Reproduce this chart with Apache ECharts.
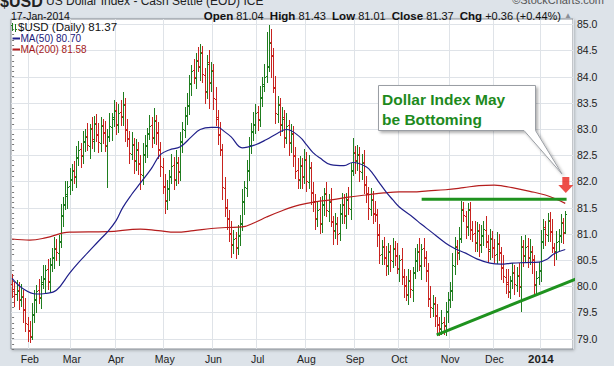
<!DOCTYPE html>
<html><head><meta charset="utf-8">
<script src="https://cdn.jsdelivr.net/npm/echarts@6/dist/echarts.min.js"></script>
<style>html,body{margin:0;padding:0;background:#dde3e9;overflow:hidden}#c{width:614px;height:366px}</style>
</head><body><div id="c"></div>
<script>
// ---- calendar (categories) ----
const firstDay = '2013-01-22';
const lastDay = '2014-01-17';
const holidays = ['2013-02-18','2013-03-29','2013-05-27','2013-07-04','2013-09-02','2013-11-28','2013-12-25','2014-01-01'];
const padSlots = 3;
const monthNames = ['Jan','Feb','Mar','Apr','May','Jun','Jul','Aug','Sep','Oct','Nov','Dec'];

// ---- daily OHLC ----
const opens = [
80.05,79.95,79.85,79.92,79.73,79.82,79.57,79.28,79.17,79.03,
79.47,79.73,79.92,79.78,80.07,80.13,80.32,80.08,80.42,80.53,
80.72,80.63,80.87,81.33,81.57,81.73,81.92,82.03,82.22,82.08,
82.47,82.62,82.48,82.77,82.87,82.68,83.02,82.78,83.12,82.88,
82.73,83.07,82.93,82.68,82.87,83.03,83.22,83.37,83.08,83.32,
83.23,83.47,82.98,82.82,82.53,82.72,82.38,82.62,82.33,82.13,
82.52,82.68,82.92,83.07,82.83,83.17,82.93,82.62,82.28,81.92,
81.63,81.87,82.08,82.32,82.03,82.37,82.18,82.77,82.98,83.27,
83.43,83.87,84.12,83.98,84.32,84.18,84.47,84.03,83.72,84.27,
83.88,84.12,83.58,83.22,82.88,82.62,81.88,81.52,81.28,81.02,
80.78,80.92,80.73,80.97,81.18,81.62,81.88,82.22,82.68,82.97,
83.08,83.32,83.18,83.62,83.83,84.02,84.18,84.67,84.42,83.78,
83.28,83.47,83.08,83.22,82.83,83.07,82.73,82.92,82.48,82.22,
82.03,82.32,82.08,82.42,81.98,82.27,81.78,81.62,81.28,81.47,
81.18,81.57,81.77,81.43,81.62,81.23,81.07,81.18,81.02,81.38,
81.57,81.33,81.67,81.48,82.22,82.57,82.38,82.52,82.18,82.37,
81.93,81.77,81.48,81.67,81.38,81.37,80.98,80.62,80.77,80.53,
80.38,80.67,80.48,80.72,80.58,80.33,80.52,80.18,80.02,79.83,
80.12,79.93,80.27,80.48,80.67,80.38,80.72,80.53,80.28,79.77,
79.58,79.67,79.43,79.27,79.18,79.32,79.23,79.52,79.73,79.92,
80.38,80.77,80.63,80.92,81.47,81.33,81.13,81.47,81.08,81.02,
80.83,81.07,80.78,80.97,81.08,80.87,80.68,80.92,80.73,80.62,
80.82,80.63,80.37,80.18,80.07,79.88,80.12,80.27,80.03,80.22,
79.98,80.77,80.58,80.77,80.53,80.67,80.52,80.03,80.17,80.28,
80.87,81.12,80.98,81.27,81.03,80.73,80.67,80.87,80.97,81.22,81.04];
const highs = [
80.23,80.07,80.12,80.07,80.05,79.92,79.77,79.42,79.34,79.68,
79.93,80.02,80.14,80.20,80.40,80.40,80.52,80.54,80.72,80.93,
80.90,80.97,81.57,81.70,82.00,82.00,82.25,82.34,82.39,82.68,
82.78,82.74,82.97,83.00,83.12,83.10,83.22,83.24,83.29,83.11,
83.23,83.19,83.15,83.00,83.30,83.30,83.55,83.51,83.47,83.55,
83.70,83.59,83.20,82.97,82.95,82.82,82.80,82.76,82.50,82.73,
82.88,83.02,83.27,83.22,83.40,83.27,83.13,82.76,82.45,82.15,
82.03,82.22,82.52,82.47,82.60,82.47,82.95,83.14,83.42,83.68,
84.03,84.22,84.34,84.45,84.57,84.62,84.58,84.17,84.42,84.50,
84.28,84.24,83.80,83.37,83.13,82.72,82.08,81.66,81.45,81.25,
81.08,81.04,81.17,81.35,81.85,82.00,82.40,82.84,83.12,83.33,
83.48,83.44,83.82,84.00,84.25,84.85,84.98,84.90,84.55,84.01,
83.63,83.59,83.42,83.37,83.30,83.17,83.10,83.06,82.65,82.45,
82.48,82.44,82.62,82.57,82.50,82.37,81.98,81.76,81.62,81.70,
81.73,81.87,81.99,81.75,81.87,81.33,81.40,81.32,81.57,81.78,
81.75,81.77,81.89,82.35,82.83,82.67,82.70,82.66,82.52,82.60,
82.11,81.89,81.87,81.82,81.63,81.47,81.18,80.89,80.94,80.76,
80.83,80.79,80.92,80.87,80.83,80.60,80.72,80.32,80.19,80.33,
80.30,80.37,80.72,80.80,80.92,80.80,80.92,80.67,80.45,80.00,
79.83,79.79,79.65,79.42,79.55,79.42,79.70,79.89,80.07,80.63,
80.93,80.89,81.12,81.62,81.60,81.43,81.58,81.61,81.25,81.25,
81.23,81.19,81.17,81.25,81.33,80.97,81.10,81.06,80.90,81.03,
81.00,80.75,80.59,80.33,80.32,80.20,80.45,80.41,80.37,80.45,
80.95,80.89,80.97,80.92,80.90,80.77,80.60,80.29,80.47,81.08,
81.28,81.24,81.40,81.42,81.28,80.83,81.05,81.09,81.37,81.30,81.43];
const lows = [
79.80,79.63,79.73,79.56,79.63,79.31,79.14,78.95,78.93,79.00,
79.32,79.51,79.68,79.59,79.97,79.89,79.94,79.88,80.29,80.35,
80.50,80.41,80.75,81.14,81.47,81.49,81.76,81.83,81.97,81.90,
82.32,82.28,82.36,82.58,82.60,82.44,82.64,82.58,82.77,82.57,
82.58,82.73,82.58,81.90,82.77,82.79,83.06,82.90,82.95,83.07,
83.08,82.78,82.68,82.36,82.43,82.16,82.22,82.15,81.86,81.95,
82.37,82.46,82.80,82.66,82.73,82.71,82.44,82.10,81.77,81.40,
81.48,81.65,81.96,81.86,81.93,81.96,82.02,82.57,82.85,83.09,
83.28,83.65,83.88,83.79,84.10,83.94,83.89,83.50,83.59,83.40,
83.73,83.38,83.08,82.71,82.50,81.66,81.34,81.10,80.87,80.56,
80.63,80.53,80.61,80.78,81.08,81.38,81.72,82.02,82.55,82.79,
82.93,82.98,83.06,83.43,83.73,83.90,84.10,84.00,83.70,83.12,
83.13,82.88,82.96,82.66,82.73,82.51,82.57,82.30,82.07,81.87,
81.88,81.88,81.96,81.81,81.88,81.56,81.44,81.10,81.15,81.02,
81.03,81.35,81.33,81.24,81.15,80.81,80.91,80.80,80.89,81.20,
81.20,81.11,81.38,81.29,82.12,82.16,82.22,82.00,82.05,81.77,
81.60,81.28,81.36,81.21,81.25,80.76,80.44,80.42,80.42,80.22,
80.23,80.28,80.36,80.41,80.25,80.09,80.04,79.80,79.73,79.65,
79.80,79.71,80.15,80.29,80.30,80.14,80.39,80.10,79.62,79.42,
79.43,79.23,79.13,79.06,79.08,79.08,79.07,79.32,79.60,79.74,
80.23,80.43,80.51,80.85,81.25,80.91,80.97,80.90,80.87,80.67,
80.68,80.58,80.66,80.78,80.75,80.46,80.52,80.55,80.47,80.44,
80.50,80.13,80.08,79.86,79.80,79.78,79.96,79.85,79.90,79.82,
79.52,80.38,80.46,80.36,80.43,80.26,79.85,79.83,80.04,80.10,
80.72,80.78,80.86,80.86,80.65,80.41,80.51,80.67,80.84,80.83,81.01];
const closes = [
79.95,79.85,79.90,79.75,79.80,79.55,79.30,79.15,79.05,79.45,
79.75,79.90,79.80,80.05,80.15,80.30,80.10,80.40,80.55,80.70,
80.65,80.85,81.35,81.55,81.75,81.90,82.05,82.20,82.10,82.45,
82.60,82.50,82.75,82.85,82.70,83.00,82.80,83.10,82.90,82.75,
83.05,82.95,82.70,82.85,83.05,83.20,83.35,83.10,83.30,83.25,
83.45,83.00,82.80,82.55,82.70,82.40,82.60,82.35,82.15,82.50,
82.70,82.90,83.05,82.85,83.15,82.95,82.60,82.30,81.90,81.65,
81.85,82.10,82.30,82.05,82.35,82.20,82.75,83.00,83.25,83.45,
83.85,84.10,84.00,84.30,84.20,84.45,84.05,83.70,84.25,83.90,
84.10,83.60,83.20,82.90,82.60,81.90,81.50,81.30,81.00,80.80,
80.90,80.75,80.95,81.20,81.60,81.90,82.20,82.70,82.95,83.10,
83.30,83.20,83.60,83.85,84.00,84.20,84.65,84.40,83.80,83.30,
83.45,83.10,83.20,82.85,83.05,82.75,82.90,82.50,82.20,82.05,
82.30,82.10,82.40,82.00,82.25,81.80,81.60,81.30,81.45,81.20,
81.55,81.75,81.45,81.60,81.25,81.05,81.20,81.00,81.40,81.55,
81.35,81.65,81.50,82.20,82.55,82.40,82.50,82.20,82.35,81.95,
81.75,81.50,81.65,81.40,81.35,81.00,80.60,80.75,80.55,80.40,
80.65,80.50,80.70,80.60,80.35,80.50,80.20,80.00,79.85,80.10,
79.95,80.25,80.50,80.65,80.40,80.70,80.55,80.30,79.75,79.60,
79.65,79.45,79.25,79.20,79.30,79.25,79.50,79.75,79.90,80.40,
80.75,80.65,80.90,81.45,81.35,81.15,81.45,81.10,81.00,80.85,
81.05,80.80,80.95,81.10,80.85,80.70,80.90,80.75,80.60,80.80,
80.65,80.35,80.20,80.05,79.90,80.10,80.25,80.05,80.20,80.00,
80.75,80.60,80.75,80.55,80.65,80.50,80.05,80.15,80.30,80.85,
81.10,81.00,81.25,81.05,80.75,80.65,80.85,80.95,81.20,81.01,81.37];

// ---- moving averages: [trading-day index, value] ----
const ma50 = [[0,80.15],[5,79.95],[11,79.85],[15,79.86],[20,79.92],[26,80.25],[30,80.45],[34,80.63],[40,80.90],[43,81.03],[47,81.25],[50,81.50],[54,81.75],[58,81.97],[63,82.25],[67,82.51],[71,82.60],[76,82.66],[81,82.85],[85,82.99],[90,83.03],[93,83.03],[96,82.95],[99,82.85],[104,82.64],[110,82.70],[115,82.80],[120,82.92],[124,82.99],[130,82.85],[133,82.70],[136,82.55],[139,82.45],[144,82.32],[150,82.30],[154,82.36],[160,82.28],[163,82.15],[166,81.97],[169,81.80],[172,81.65],[175,81.51],[181,81.32],[185,81.18],[189,81.05],[196,80.82],[200,80.72],[205,80.63],[210,80.52],[216,80.44],[221,80.42],[226,80.44],[232,80.45],[238,80.46],[242,80.52],[245,80.62],[250,80.70]];
const ma200 = [[0,80.90],[8,80.88],[15,80.92],[26,81.03],[43,81.04],[58,81.09],[66,81.06],[74,81.03],[82,81.06],[90,81.10],[97,81.12],[104,81.13],[110,81.22],[115,81.32],[122,81.44],[130,81.55],[137,81.61],[145,81.65],[152,81.70],[160,81.74],[168,81.78],[175,81.80],[181,81.80],[188,81.82],[196,81.84],[204,81.88],[211,81.92],[218,81.93],[222,81.91],[226,81.88],[234,81.81],[241,81.74],[246,81.66],[250,81.58]];

// ---- axis ticks & annotations (data coordinates) ----
const yTicks = [79.0,79.5,80.0,80.5,81.0,81.5,82.0,82.5,83.0,83.5,84.0,84.5,85.0];
const yMin = 78.8, yMax = 85.1, yStep = 0.1;
const resistance = [[185.1,81.66],[250.6,81.66]];
const support = [[191.9,79.07],[259.7,80.22]];
const arrowPoint = [[250.25,81.93]];

// ---- build categories (trading days) ----
function fmt(d){return d.toISOString().slice(0,10);}
const dates = [];
for (let d = new Date(firstDay+'T00:00:00Z'); fmt(d) <= lastDay; d.setUTCDate(d.getUTCDate()+1)) {
  const wd = d.getUTCDay();
  if (wd === 0 || wd === 6) continue;
  if (holidays.indexOf(fmt(d)) >= 0) continue;
  dates.push(fmt(d));
}
const categories = dates.slice();
for (let k = 1; k <= padSlots; k++) categories.push(' '.repeat(k));
const nCat = categories.length;
function isMonthStart(i){ return i > 0 && i < dates.length && dates[i].slice(0,7) !== dates[i-1].slice(0,7); }

const bars = closes.map((c, i) => [i, opens[i], highs[i], lows[i], c, i ? closes[i-1] : opens[i]]);
const GREEN = '#1f7d1f', RED = '#c8231f';
const FONT = '"Liberation Sans", Arial, sans-serif';
const NARROW = '"Liberation Sans Narrow", "Liberation Sans", Arial, sans-serif';

function txt(x, y, text, font, fill, extra) {
  return Object.assign({type: 'text', x: x, y: y, z: 10,
    style: Object.assign({text: text, font: font, fill: fill, verticalAlign: 'middle', align: 'left'}, extra || {})});
}

const chart = echarts.init(document.getElementById('c'), null, {renderer: 'svg'});
chart.setOption({
  animation: false,
  backgroundColor: '#dde3e9',
  grid: {left: 11, right: 41, top: 19, bottom: 17, show: true, backgroundColor: '#ffffff',
         borderColor: '#878d95', borderWidth: 1,
         shadowColor: 'rgba(0,0,0,0.25)', shadowBlur: 3, shadowOffsetX: 1, shadowOffsetY: 1},
  xAxis: [
    {type: 'category', data: categories, boundaryGap: true,
     axisLine: {show: false}, axisTick: {show: false},
     axisLabel: {interval: (i) => isMonthStart(i), margin: 4, color: '#222', fontSize: 10.5, fontFamily: FONT,
       formatter: (v) => { const m = +v.slice(5,7); return m === 1 ? '{y|' + v.slice(0,4) + '}' : monthNames[m-1]; },
       rich: {y: {fontWeight: 'bold', fontSize: 11.5, fontFamily: FONT, color: '#222'}}},
     splitLine: {show: true, interval: (i) => isMonthStart(i), lineStyle: {color: '#dfe3e8', width: 1}}},
    {type: 'value', min: -0.5, max: nCat - 0.5, show: false, splitLine: {show: false}}
  ],
  yAxis: {type: 'value', position: 'right', min: yMin, max: yMax, interval: yStep, scale: true,
    axisLine: {show: false},
    axisTick: {show: true, length: 2, lineStyle: {color: '#777'}},
    splitLine: {show: false},
    axisLabel: {margin: 4, color: '#222', fontSize: 10.5, fontFamily: FONT,
      formatter: (v) => yTicks.some(t => Math.abs(t - v) < 1e-6) ? v.toFixed(1) : ''}},
  series: [
    {type: 'custom', name: 'hgrid', xAxisIndex: 1, z: 1, silent: true,
     data: yTicks.map(v => [0, v]), encode: {x: 0, y: 1},
     renderItem: (params, api) => {
       const cs = params.coordSys; const p = api.coord([0, api.value(1)]);
       const y = Math.round(p[1]) + 0.5;
       return {type: 'line', shape: {x1: cs.x, y1: y, x2: cs.x + cs.width, y2: y}, style: {stroke: '#dfe3e8', lineWidth: 1}};
     }},
    {type: 'custom', name: '$USD', xAxisIndex: 0, z: 3, silent: true,
     data: bars, dimensions: ['i','open','high','low','close','prev'], encode: {x: 0, y: [1,2,3,4]},
     renderItem: (params, api) => {
       const i = api.value(0), o = api.value(1), h = api.value(2), l = api.value(3), c = api.value(4), pc = api.value(5);
       const ph = api.coord([i, h]), pl = api.coord([i, l]), po = api.coord([i, o]), pk = api.coord([i, c]);
       const x = Math.round(ph[0]) + 0.5;
       const st = {stroke: c >= pc ? GREEN : RED, lineWidth: 1};
       const yo = Math.round(po[1]) + 0.5, yc = Math.round(pk[1]) + 0.5;
       return {type: 'group', children: [
         {type: 'line', shape: {x1: x, y1: Math.round(ph[1]), x2: x, y2: Math.round(pl[1]) + 1}, style: st},
         {type: 'line', shape: {x1: x - 1.5, y1: yo, x2: x, y2: yo}, style: st},
         {type: 'line', shape: {x1: x, y1: yc, x2: x + 1.5, y2: yc}, style: st}
       ]};
     }},
    {type: 'line', name: 'MA(200)', xAxisIndex: 1, z: 4, data: ma200, smooth: 0.4, symbol: 'none',
     lineStyle: {color: '#b51d1d', width: 1.2}, silent: true},
    {type: 'line', name: 'MA(50)', xAxisIndex: 1, z: 4, data: ma50, smooth: 0.4, symbol: 'none',
     lineStyle: {color: '#20208a', width: 1.2}, silent: true},
    {type: 'line', name: 'resistance', xAxisIndex: 1, z: 5, data: resistance, symbol: 'none', clip: false,
     lineStyle: {color: '#1f921f', width: 3}, silent: true},
    {type: 'line', name: 'support', xAxisIndex: 1, z: 5, data: support, symbol: 'none', clip: false,
     lineStyle: {color: '#1f921f', width: 3}, silent: true},
    {type: 'scatter', name: 'arrow', xAxisIndex: 1, z: 6, data: arrowPoint, clip: false, silent: true,
     symbol: 'path://M4,0 L11,0 L11,8 L15,8 L7.5,16 L0,8 L4,8 Z', symbolSize: [15, 16],
     itemStyle: {color: '#e8231b'}}
  ],
  graphic: [
    txt(0, 1, '{b|$USD} US Dollar Index - Cash Settle (EOD) ICE', '12px ' + FONT, '#222',
        {rich: {b: {font: 'bold 16px ' + FONT, fill: '#222'}}}),
    txt(604, 0, '©StockCharts.com', '11px ' + FONT, '#555', {align: 'right'}),
    txt(11, 15.5, '17-Jan-2014', '10.5px ' + FONT, '#111'),
    txt(572, 15.5, '{b|Open} 81.04  {b|High} 81.43  {b|Low} 81.01  {b|Close} 81.37  {b|Chg} +0.36 (+0.44%) {t|▲}',
        '11px ' + FONT, '#111',
        {align: 'right', rich: {b: {font: 'bold 11.5px ' + FONT, fill: '#111'}, t: {font: '8px ' + FONT, fill: '#8a8f96'}}}),
    // legend
    {type: 'line', z: 10, shape: {x1: 12.5, y1: 23, x2: 12.5, y2: 31}, style: {stroke: GREEN, lineWidth: 1}},
    {type: 'line', z: 10, shape: {x1: 11, y1: 25.5, x2: 12.5, y2: 25.5}, style: {stroke: GREEN, lineWidth: 1}},
    {type: 'line', z: 10, shape: {x1: 15.5, y1: 24, x2: 15.5, y2: 32}, style: {stroke: GREEN, lineWidth: 1}},
    {type: 'line', z: 10, shape: {x1: 15.5, y1: 29.5, x2: 17, y2: 29.5}, style: {stroke: GREEN, lineWidth: 1}},
    txt(18, 26.8, '$USD (Daily) 81.37', '11.5px ' + FONT, '#111'),
    {type: 'line', z: 10, shape: {x1: 12.5, y1: 38.5, x2: 20, y2: 38.5}, style: {stroke: '#20208a', lineWidth: 2}},
    txt(20.5, 38.6, 'MA(50) 80.70', '10px ' + NARROW, '#20207a'),
    {type: 'line', z: 10, shape: {x1: 12.5, y1: 49.5, x2: 20, y2: 49.5}, style: {stroke: '#b51d1d', lineWidth: 2}},
    txt(20.5, 49.6, 'MA(200) 81.58', '10px ' + NARROW, '#a3191a'),
    // callout
    {type: 'polygon', z: 20, shape: {points: [[378.5,85.5],[535.5,85.5],[535.5,130.5],[562,174],[524,130.5],[378.5,130.5]]},
     style: {fill: '#ffffff', stroke: '#9a9ea4', lineWidth: 1, shadowColor: 'rgba(0,0,0,0.3)', shadowBlur: 3, shadowOffsetX: 2, shadowOffsetY: 2}},
    {type: 'text', x: 382, y: 90, z: 21, style: {text: 'Dollar Index May\nbe Bottoming', font: 'bold 15.5px ' + FONT, fill: '#1d8a1d', lineHeight: 19.5}}
  ]
});
</script>
</body></html>
